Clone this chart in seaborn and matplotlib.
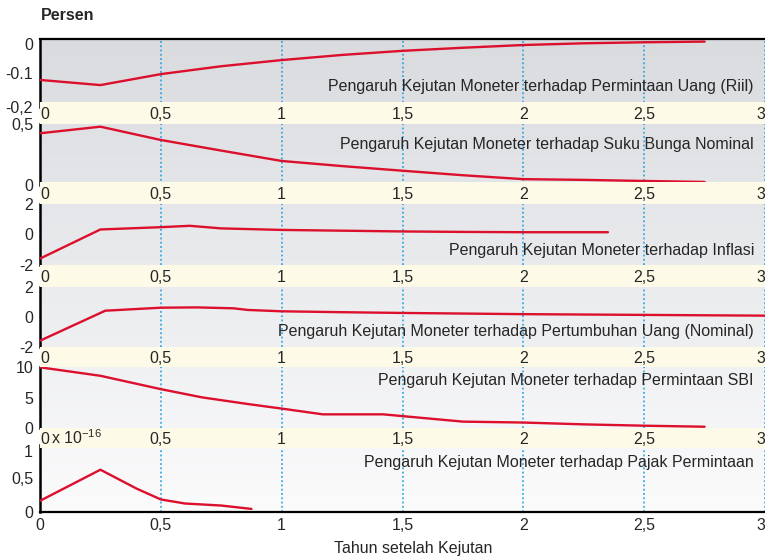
import numpy as np
import matplotlib
matplotlib.use("Agg")
import matplotlib.pyplot as plt
import seaborn as sns

# %%
# impulse responses (x in years after the shock)
x_riil = [0, 0.25, 0.5, 0.75, 1, 1.25, 1.5, 1.75, 2, 2.25, 2.5, 2.75]
y_riil = [-0.121, -0.136, -0.104, -0.081, -0.063, -0.048, -0.036, -0.027, -0.019, -0.014, -0.011, -0.009]

x_bunga = [0, 0.25, 0.5, 0.75, 1, 1.25, 1.5, 1.75, 2, 2.25, 2.5, 2.75]
y_bunga = [0.424, 0.478, 0.369, 0.282, 0.197, 0.155, 0.117, 0.080, 0.048, 0.042, 0.033, 0.025]

x_inflasi = [0, 0.25, 0.5, 0.62, 0.75, 1, 1.25, 1.5, 1.75, 2, 2.35]
y_inflasi = [-1.58, 0.33, 0.48, 0.57, 0.40, 0.30, 0.25, 0.20, 0.17, 0.15, 0.15]

x_uang = [0, 0.27, 0.5, 0.65, 0.8, 0.86, 1, 1.25, 1.5, 1.75, 2, 2.5, 3]
y_uang = [-1.60, 0.40, 0.60, 0.62, 0.56, 0.45, 0.36, 0.30, 0.25, 0.21, 0.17, 0.12, 0.07]

x_sbi = [0, 0.25, 0.5, 0.67, 0.86, 1, 1.17, 1.42, 1.75, 2, 2.25, 2.5, 2.75]
y_sbi = [10, 8.6, 6.4, 5.05, 3.95, 3.2, 2.25, 2.25, 1.05, 0.9, 0.6, 0.38, 0.21]

x_pajak = [0, 0.25, 0.4, 0.5, 0.6, 0.75, 0.875]
y_pajak = [0.17, 0.63, 0.35, 0.19, 0.13, 0.10, 0.05]   # x 10^-16

titles = [
    "Pengaruh Kejutan Moneter terhadap Permintaan Uang (Riil)",
    "Pengaruh Kejutan Moneter terhadap Suku Bunga Nominal",
    "Pengaruh Kejutan Moneter terhadap Inflasi",
    "Pengaruh Kejutan Moneter terhadap Pertumbuhan Uang (Nominal)",
    "Pengaruh Kejutan Moneter terhadap Permintaan SBI",
    "Pengaruh Kejutan Moneter terhadap Pajak Permintaan",
]
x_ticks = [0, 0.5, 1, 1.5, 2, 2.5, 3]
x_ticklabels = ["0", "0,5", "1", "1,5", "2", "2,5", "3"]

# %%
sns.set_style("white")
plt.rcParams['font.family'] = ['Liberation Sans', 'DejaVu Sans']
plt.rcParams['mathtext.fontset'] = 'custom'
plt.rcParams['mathtext.rm'] = 'Liberation Sans'
plt.rcParams['mathtext.it'] = 'Liberation Sans:italic'

W, H = 765, 557
LEFT, RIGHT = 40, 765
RED = '#dc0f2d'
BLUE = '#1a9fe0'
CREAM = '#fdfbe8'
FS = 11.5


def px_rect(top, bottom, left=LEFT, right=RIGHT):
    return [left / W, 1 - bottom / H, (right - left) / W, (bottom - top) / H]


def gray_at(y):
    # background fades from grey at the top to almost white at the bottom
    t = np.clip((y - 38) / (512 - 38), 0, 1)
    c0 = np.array([217, 219, 223]) / 255
    c1 = np.array([251, 251, 252]) / 255
    return c0 + (c1 - c0) * t


fig = plt.figure(figsize=(W / 100, H / 100), dpi=100)

# top px, bottom px, ylim, yticks, yticklabels, grid at, title y px, x, y
panels = [
    (38.5, 107, (-0.2, 0), [-0.2, -0.1, 0], ["-0,2", "-0.1", "0"], [-0.1], 86.7, x_riil, y_riil),
    (124, 185, (0, 0.5), [0, 0.5], ["0", "0,5"], [], 144, x_bunga, y_bunga),
    (204, 265, (-2, 2), [-2, 0, 2], ["-2", "0", "2"], [0], 250, x_inflasi, y_inflasi),
    (286.7, 346.7, (-2, 2), [-2, 0, 2], ["-2", "0", "2"], [0], 331.7, x_uang, y_uang),
    (367.3, 428, (0, 10), [0, 5, 10], ["0", "5", "10"], [5], 380.7, x_sbi, y_sbi),
    (444.7, 512.3, (0, 1), [0, 0.5, 1], ["0", "0,5", "1"], [0.5], 462.7, x_pajak, y_pajak),
]

for i, (top, bot, ylim, yt, ytl, grid_at, ty, xs, ys) in enumerate(panels):
    ax = fig.add_axes(px_rect(top, bot))
    grad = np.linspace(gray_at(top), gray_at(bot), 64)[:, None, :]
    ax.imshow(grad, extent=[0, 1, 0, 1], transform=ax.transAxes, aspect='auto', zorder=0)
    sns.lineplot(x=xs, y=ys, ax=ax, color=RED, linewidth=1.7, zorder=3)
    ax.set_xlim(0, 3)
    ax.set_ylim(*ylim)
    ax.set_xticks(x_ticks)
    ax.set_yticks(yt)
    ax.set_yticklabels(ytl, fontsize=FS)
    ax.set_yticks(grid_at, minor=True)
    ax.grid(True, axis='x', which='major', color=BLUE, linestyle=(0, (1.2, 1.6)), linewidth=1.1, zorder=1)
    ax.grid(True, axis='y', which='minor', color=BLUE, linestyle=(0, (1.2, 1.6)), linewidth=1.1, zorder=1)
    ax.grid(False, axis='y', which='major')
    ax.tick_params(axis='both', which='both', length=0)
    ax.tick_params(axis='y', pad=5)
    for s in ax.spines.values():
        s.set_visible(False)
    ax.spines['left'].set_visible(True)
    ax.spines['left'].set_color('black')
    ax.spines['left'].set_linewidth(1.8)
    if i == 0:
        ax.spines['top'].set_visible(True)
        ax.spines['top'].set_color('black')
        ax.spines['top'].set_linewidth(1.6)
    if i in (0, 5):
        ax.get_yticklabels()[-1].set_va('top')
    if i == 5:
        ax.spines['bottom'].set_visible(True)
        ax.spines['bottom'].set_color('black')
        ax.spines['bottom'].set_linewidth(1.6)
        ax.set_xticklabels(x_ticklabels, fontsize=FS)
        ax.get_xticklabels()[-1].set_ha('right')
        ax.tick_params(axis='x', pad=4)
        ax.set_xlabel("Tahun setelah Kejutan", fontsize=FS)
        ax.xaxis.set_label_coords(0.515, -0.42)
    else:
        ax.tick_params(axis='x', labelbottom=False)
    ax.set_ylabel("")
    ax.text((754 - LEFT) / (RIGHT - LEFT), (bot - ty) / (bot - top), titles[i], ha='right', va='center',
            transform=ax.transAxes, fontsize=FS, zorder=4)

# cream strips carrying the x tick labels between the panels
bands = [(101.7, 124), (182, 203.8), (265, 286.7), (346.7, 367.3), (428.3, 448.3)]
for j, (top, bot) in enumerate(bands):
    b = fig.add_axes(px_rect(top, bot))
    b.set_facecolor(CREAM)
    b.set_xlim(0, 3)
    b.set_ylim(0, 1)
    b.set_yticks([])
    b.set_xticks(x_ticks)
    b.set_xticklabels(x_ticklabels, fontsize=FS)
    b.tick_params(axis='x', length=0, pad=-12)
    b.get_xticklabels()[0].set_ha('left')
    b.get_xticklabels()[-1].set_ha('right')
    for s in b.spines.values():
        s.set_visible(False)
    if j == 4:
        b.text((51 - LEFT) / (RIGHT - LEFT), 0.55, r"x 10$^{-16}$", fontsize=FS, ha='left', va='center',
               transform=b.transAxes)

fig.text(41 / W, 1 - 15 / H, "Persen", fontsize=11.5, fontweight='bold', va='center', ha='left')

fig.savefig("out.png", dpi=100)
